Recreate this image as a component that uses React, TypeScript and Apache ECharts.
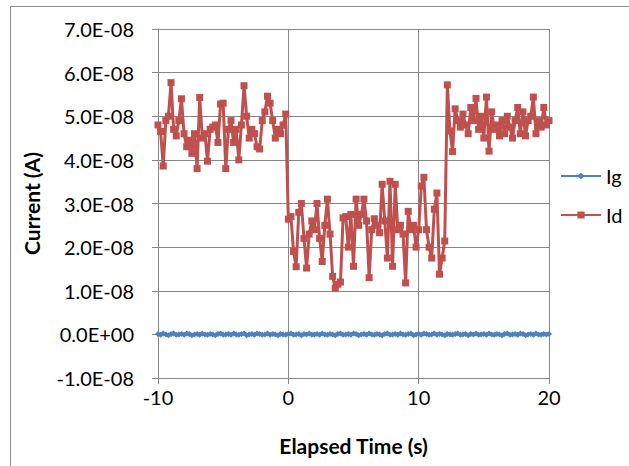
import React, { useEffect, useRef } from "react";
import * as echarts from "echarts";

// Sample times: -10 s to 20 s, every 0.2 s
const timeStart = -10;
const timeStep = 0.2;

// Drain current Id, in units of 1E-08 A
const idValues = [
  4.8, 4.65, 3.86, 4.9, 5.0, 5.77, 4.7, 4.55, 4.9, 5.4,
  4.6, 4.3, 4.45, 4.15, 4.6, 3.8, 5.43, 4.5, 4.6, 3.97,
  4.7, 4.75, 4.8, 4.4, 5.28, 5.3, 3.8, 4.7, 4.9, 4.4,
  4.7, 4.0, 4.8, 5.7, 5.0, 4.5, 4.7, 4.6, 4.3, 4.25,
  4.9, 5.1, 5.46, 5.3, 4.9, 4.5, 4.7, 4.6, 4.8, 5.05,
  2.64, 2.7, 1.9, 1.55, 2.8, 3.0, 2.2, 1.52, 2.3, 2.6,
  2.4, 3.0, 2.2, 1.67, 2.5, 3.1, 2.3, 1.33, 1.06, 1.15,
  1.2, 2.67, 2.7, 2.0, 2.75, 1.56, 3.1, 2.5, 2.75, 3.1,
  2.6, 1.3, 2.4, 2.65, 2.5, 2.33, 3.44, 2.6, 1.75, 3.51,
  1.56, 3.44, 2.4, 2.5, 2.3, 1.18, 2.82, 2.4, 2.5, 2.0,
  2.4, 3.4, 3.6, 2.4, 2.0, 1.75, 2.87, 3.24, 1.38, 1.75,
  2.14, 5.72, 4.66, 4.19, 5.17, 4.9, 4.75, 5.05, 4.8, 4.6,
  5.2, 4.9, 5.41, 4.7, 5.0, 4.5, 5.44, 4.2, 5.1, 4.7,
  4.8, 4.55, 4.9, 4.6, 5.0, 4.75, 4.5, 4.9, 5.2, 4.6,
  5.1, 4.55, 4.9, 5.0, 5.44, 4.6, 4.9, 4.75, 5.2, 4.8,
  4.9,
];

// Gate current Ig, in units of 1E-08 A
const igValues = [
  0.01, -0.01, 0.02, 0.0, -0.02, 0.01, 0.02, -0.01, 0.0, 0.01,
  -0.01, 0.02, 0.01, -0.02, 0.0, 0.01, -0.01, 0.02, 0.0, -0.01,
  0.01, 0.0, -0.02, 0.01, 0.02, -0.01, 0.0, 0.01, -0.01, 0.02,
  0.0, -0.01, 0.01, 0.02, -0.02, 0.0, 0.01, -0.01, 0.02, 0.01,
  -0.01, 0.0, 0.02, -0.01, 0.01, 0.0, -0.02, 0.01, 0.0, -0.01,
  0.01, 0.02, -0.01, 0.0, 0.01, -0.02, 0.01, 0.0, 0.02, -0.01,
  0.0, 0.01, -0.01, 0.02, 0.0, -0.01, 0.01, 0.0, -0.02, 0.01,
  0.02, -0.01, 0.0, 0.01, -0.01, 0.02, 0.01, -0.02, 0.0, 0.01,
  -0.01, 0.02, 0.0, -0.01, 0.01, 0.0, -0.02, 0.01, 0.02, -0.01,
  0.0, 0.01, -0.01, 0.02, 0.0, -0.01, 0.01, 0.02, -0.02, 0.0,
  0.01, -0.01, 0.02, 0.01, -0.01, 0.0, 0.02, -0.01, 0.01, 0.0,
  -0.02, 0.01, 0.0, -0.01, 0.01, 0.02, -0.01, 0.0, 0.01, -0.02,
  0.01, 0.0, 0.02, -0.01, 0.0, 0.01, -0.01, 0.02, 0.0, -0.01,
  0.01, 0.0, -0.02, 0.01, 0.02, -0.01, 0.0, 0.01, -0.01, 0.02,
  0.01, -0.02, 0.0, 0.01, -0.01, 0.02, 0.0, -0.01, 0.01, 0.0,
  0.01,
];

const seriesNames = ["Ig", "Id"];
const xTitle = "Elapsed Time (s)";
const yTitle = "Current (A)";

const FONT = "Lato";

function sci(v: number): string {
  const a = v * 1e-8;
  if (Math.abs(v) < 1e-9) return "0.0E+00";
  const s = a.toExponential(1);
  const [m, e] = s.split("e");
  const en = parseInt(e, 10);
  return m + "E" + (en < 0 ? "-" : "+") + String(Math.abs(en)).padStart(2, "0");
}

export default function App() {
  const ref = useRef<HTMLDivElement>(null);

  useEffect(() => {
    if (!ref.current) return;
    const chart = echarts.init(ref.current, undefined, { renderer: "svg" });
    const times = idValues.map((_, i) => +(timeStart + i * timeStep).toFixed(1));
    const idData = times.map((t, i) => [t, idValues[i]]);
    const igData = times.map((t, i) => [t, igValues[i]]);
    const gridColor = "#878787";

    chart.setOption({
      animation: false,
      backgroundColor: "#ffffff",
      textStyle: { fontFamily: FONT },
      graphic: [
        {
          type: "rect",
          shape: { x: 10.5, y: 6.5, width: 1000, height: 1000 },
          style: { fill: "none", stroke: "#8c8c8c", lineWidth: 1 },
          silent: true,
        },
      ],
      grid: { left: 158, right: 80, top: 29, bottom: 88, containLabel: false },
      legend: {
        orient: "vertical",
        left: 560,
        top: 166,
        padding: 0,
        itemWidth: 40,
        itemHeight: 9,
        itemGap: 19,
        data: seriesNames,
        textStyle: { fontFamily: FONT, fontSize: 20, color: "#000", lineHeight: 20 },
      },
      xAxis: {
        type: "value",
        min: -10,
        max: 20,
        interval: 10,
        name: xTitle,
        nameLocation: "middle",
        nameGap: 57,
        nameTextStyle: { fontFamily: FONT, fontSize: 21, fontWeight: "bold", color: "#000" },
        axisLine: { show: true, onZero: false, lineStyle: { color: gridColor, width: 1 } },
        axisTick: { show: true, inside: false, length: 6, lineStyle: { color: gridColor } },
        axisLabel: { fontFamily: FONT, fontSize: 20, color: "#000", margin: 9 },
        splitLine: { show: true, lineStyle: { color: gridColor, width: 1 } },
      },
      yAxis: {
        type: "value",
        min: -1,
        max: 7,
        interval: 1,
        name: yTitle,
        nameLocation: "middle",
        nameGap: 116,
        nameRotate: 90,
        nameTextStyle: { fontFamily: FONT, fontSize: 21, fontWeight: "bold", color: "#000" },
        axisLine: { show: true, onZero: false, lineStyle: { color: gridColor, width: 1 } },
        axisTick: { show: true, inside: false, length: 6, lineStyle: { color: gridColor } },
        axisLabel: { fontFamily: FONT, fontSize: 20, color: "#000", margin: 24, formatter: sci },
        splitLine: { show: true, lineStyle: { color: gridColor, width: 1 } },
      },
      series: [
        {
          name: seriesNames[0],
          type: "line",
          data: igData,
          symbol: "diamond",
          symbolSize: 6,
          showAllSymbol: true,
          color: "#4F81BD",
          lineStyle: { width: 3.5, color: "#4F81BD" },
          itemStyle: { color: "#4F81BD" },
        },
        {
          name: seriesNames[1],
          type: "line",
          data: idData,
          symbol: "rect",
          symbolSize: 7,
          showAllSymbol: true,
          color: "#C0504D",
          lineStyle: { width: 3, color: "#C0504D" },
          itemStyle: { color: "#C0504D" },
        },
      ],
    });
    return () => chart.dispose();
  }, []);

  return (
    <div
      ref={ref}
      style={{ position: "fixed", left: 0, top: 0, width: 629, height: 466, background: "#fff" }}
    />
  );
}
